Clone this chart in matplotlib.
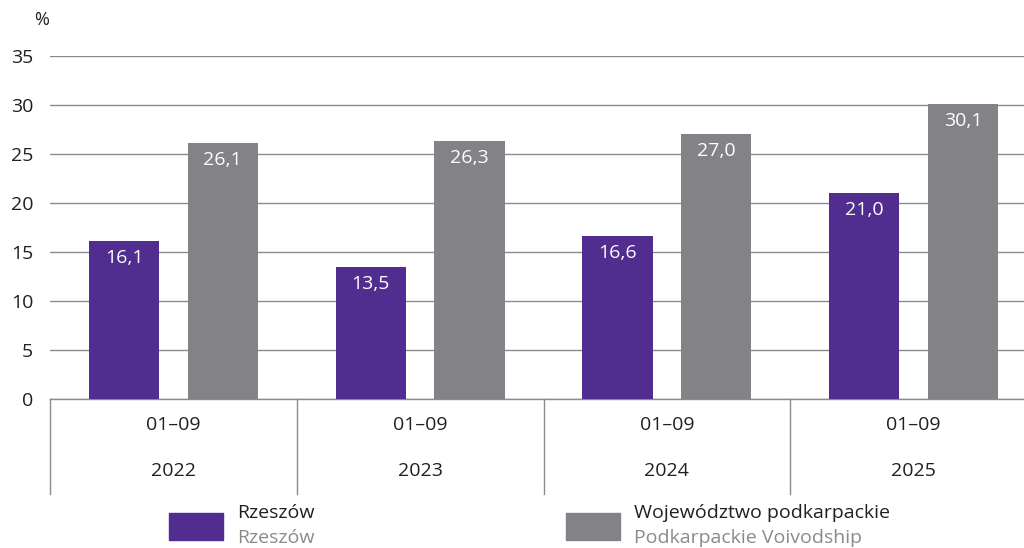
import numpy as np
import matplotlib.pyplot as plt
from matplotlib.patches import Rectangle

periods = ['01–09', '01–09', '01–09', '01–09']
years = ['2022', '2023', '2024', '2025']
rzeszow = [16.1, 13.5, 16.6, 21.0]
podkarpackie = [26.1, 26.3, 27.0, 30.1]
series_pl = ['Rzeszów', 'Województwo podkarpackie']
series_en = ['Rzeszów', 'Podkarpackie Voivodship']

purple = '#512d8f'
gray = '#838387'
text_c = '#231f20'
line_c = '#8c8c8c'
fs = 14

plt.rcParams['font.family'] = ['Open Sans', 'DejaVu Sans']

fig = plt.figure(figsize=(10.24, 5.48), dpi=100)
# the last category runs past the right edge of the picture
ax = fig.add_axes([50 / 1024, 1 - 399 / 548, 987 / 1024, (399 - 56) / 548])

x = np.arange(len(years))
w = 0.284
off = 0.2
b1 = ax.bar(x - off, rzeszow, w, color=purple, zorder=3)
b2 = ax.bar(x + off, podkarpackie, w, color=gray, zorder=3)

for bars, vals in ((b1, rzeszow), (b2, podkarpackie)):
    for b, v in zip(bars, vals):
        ax.annotate(f'{v:.1f}'.replace('.', ','),
                    (b.get_x() + b.get_width() / 2, v),
                    xytext=(0, -17), textcoords='offset pixels',
                    ha='center', va='center', color='white', fontsize=fs, zorder=4)

ax.set_xlim(-0.5, len(years) - 0.5)
ax.set_ylim(0, 35)
ax.set_yticks(range(0, 36, 5))
ax.yaxis.grid(True, color=line_c, linewidth=1, zorder=0)
ax.tick_params(axis='y', length=0, pad=12, labelsize=fs, labelcolor=text_c)
ax.tick_params(axis='x', length=0, labelbottom=False)
for s in ['left', 'right', 'top']:
    ax.spines[s].set_visible(False)
ax.spines['bottom'].set_color(line_c)
ax.spines['bottom'].set_linewidth(1)

fig.text(42 / 1024, 1 - 20 / 548, '%', ha='center', va='center',
         fontsize=fs - 1, color=text_c)

# category separators and two-row labels
trans = ax.get_xaxis_transform()
for i in range(len(years)):
    ax.plot([i - 0.5, i - 0.5], [0, -95 / 343], transform=trans, color=line_c,
            linewidth=1, clip_on=False)
for i, (p, yr) in enumerate(zip(periods, years)):
    ax.text(i, -26 / 343, p, transform=trans, ha='center', va='center',
            fontsize=fs, color=text_c)
    ax.text(i, -72 / 343, yr, transform=trans, ha='center', va='center',
            fontsize=fs, color=text_c)

# legend
for (x0, col), pl, en in zip(((169, purple), (566, gray)), series_pl, series_en):
    fig.patches.append(Rectangle((x0 / 1024, 1 - 540 / 548), 54 / 1024, 27 / 548,
                                 transform=fig.transFigure, color=col))
    fig.text((x0 + 68) / 1024, 1 - 513 / 548, pl, ha='left', va='center',
             fontsize=fs, color=text_c)
    fig.text((x0 + 68) / 1024, 1 - 538 / 548, en, ha='left', va='center',
             fontsize=fs, color='#8a8a8d')

fig.savefig('out.png', dpi=100)
